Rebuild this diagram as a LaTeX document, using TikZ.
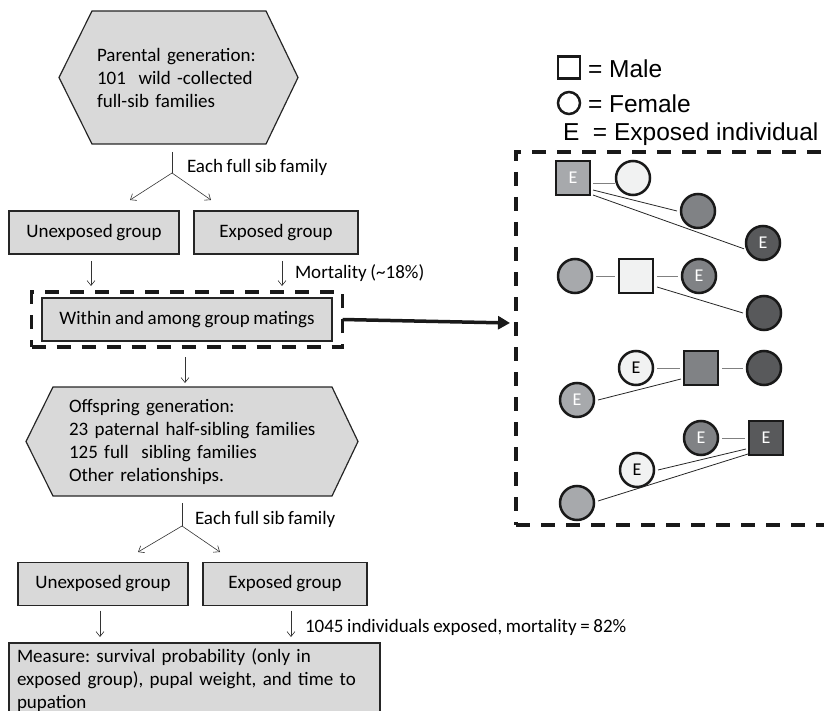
\documentclass[tikz,border=0pt]{standalone}
\usepackage{fontspec}
\setmainfont[WordSpace=0.85]{Carlito}
\newfontfamily\legendfont{Liberation Sans}
\usetikzlibrary{arrows.meta,fit,backgrounds}
\frenchspacing

\definecolor{boxgray}{HTML}{D9D9D9}
\definecolor{pwhite}{HTML}{F1F2F2}
\definecolor{plight}{HTML}{A7A9AC}
\definecolor{pmid}{HTML}{808285}
\definecolor{pdark}{HTML}{58595B}

\begin{document}
\begin{tikzpicture}[
		x=1pt, y=-1pt,
		every node/.style={font=\fontsize{19}{23}\selectfont, outer sep=0pt},
		box/.style={draw=black!85, fill=boxgray, line width=1.2pt, minimum height=43pt, inner sep=0pt},
		hexfill/.style={draw=black!85, fill=boxgray, line width=1.2pt},
		flow/.style={draw=black!80, line width=0.6pt, -{Straight Barb[length=5pt,width=8pt]}},
		frame/.style={draw=black!90, line width=3.2pt, dash pattern=on 14pt off 11pt},
		bigarrow/.style={draw=black!90, line width=3.5pt, -{Triangle[length=12pt,width=13pt]}},
		male/.style={rectangle, draw=black!90, line width=2.5pt, minimum size=34pt, inner sep=0pt, font=\fontsize{18}{18}\selectfont},
		female/.style={circle, draw=black!90, line width=2.5pt, minimum size=34pt, inner sep=0pt, font=\fontsize{18}{18}\selectfont},
		mate/.style={draw=gray, line width=1pt},
		desc/.style={draw=black!85, line width=0.8pt},
		legtext/.style={font=\legendfont\fontsize{24.5}{24.5}\selectfont, inner sep=0pt}
	]
	\useasboundingbox (0,0) rectangle (824,711);
	\clip (0,0) rectangle (824,711);

	% Flow chart
	\node[text width=164pt, align=left, minimum height=133pt, inner xsep=5pt, inner ysep=0pt] (par) at (179,77.5)
		{Parental generation:\\101\ \ wild -collected\\full-sib families};
	\node[box, minimum width=170pt] (unexp1) at (94,232.5) {Unexposed group};
	\node[box, minimum width=164pt] (exp1) at (276,232.5) {Exposed group};
	\node[box, minimum width=290pt] (mat) at (187,319.5) {Within and among group matings};
	\node[frame, fit=(mat), inner xsep=10.5pt, inner ysep=6pt] (matframe) {};
	\node[text width=247pt, align=left, minimum height=109pt, inner xsep=16pt, inner ysep=0pt] (off) at (192.5,441.5)
		{Offspring generation:\\23 paternal half-sibling families\\125 full\ \ sibling families\\Other relationships.};
	\node[box, minimum width=170pt] (unexp2) at (103,584) {Unexposed group};
	\node[box, minimum width=164pt] (exp2) at (285,584) {Exposed group};
	\node[box, anchor=north west, text width=355pt, align=left, inner xsep=8pt, inner ysep=0pt, minimum height=74pt] (meas) at (9,643)
		{Measure: survival probability (only in\\exposed group), pupal weight, and time to\\pupation};

	\begin{scope}[on background layer]
		\draw[hexfill] (par.north west) -- (par.north east) -- ([xshift=32pt]par.east) -- (par.south east)
			-- (par.south west) -- ([xshift=-33pt]par.west) -- cycle;
		\draw[hexfill] (off.north west) -- (off.north east) -- ([xshift=26pt]off.east) -- (off.south east)
			-- (off.south west) -- ([xshift=-27pt]off.west) -- cycle;
	\end{scope}

	% Connections
	\coordinate (split1) at (172,173);
	\coordinate (left1) at (130,200);
	\coordinate (right1) at (211,200);
	\draw[draw=black!80, line width=0.6pt] (172,152) -- (split1);
	\draw[flow] (split1) -- (left1);
	\draw[flow] (split1) -- (right1);
	\draw[flow] ([shift={(-3,7)}]unexp1.south) -- ([shift={(-3,-6)}]matframe.north -| unexp1.south);
	\draw[flow] ([shift={(6,7)}]exp1.south) -- ([shift={(6,-6)}]matframe.north -| exp1.south);
	\coordinate (matout) at (185,357);
	\draw[flow] (matout) -- (matout |- 0,383);

	\coordinate (split2) at (182,526);
	\coordinate (left2) at (138,552);
	\coordinate (right2) at (220,552);
	\draw[draw=black!80, line width=0.6pt] (182,503) -- (split2);
	\draw[flow] (split2) -- (left2);
	\draw[flow] (split2) -- (right2);
	\draw[flow] ([shift={(-3,5)}]unexp2.south) -- ([shift={(-3,-6)}]meas.north -| unexp2.south);
	\draw[flow] ([shift={(6,5)}]exp2.south) -- ([shift={(6,-6)}]meas.north -| exp2.south);

	% Labels
	\node[anchor=west, inner sep=0pt] (lab1) at (187,167) {Each full sib family};
	\node[anchor=west, inner sep=0pt] (lab2) at (295,273) {Mortality (\textasciitilde18\%)};
	\node[anchor=west, inner sep=0pt] (lab3) at (195,519) {Each full sib family};
	\node[anchor=west, inner sep=0pt] (lab4) at (305,627) {1045 individuals exposed, mortality = 82\%};

	% Legend
	\node[male, minimum size=22pt] (legm) at (569,67.5) {};
	\node[female, minimum size=22pt] (legf) at (569,103) {};
	\node[legtext, anchor=west] (legmt) at (588,69) {= Male};
	\node[legtext, anchor=west] (legft) at (588,104) {= Female};
	\node[legtext, anchor=west] (leget) at (563,134) {E\ \ = Exposed individual};

	% Pedigree
	\node[frame, anchor=north west, minimum width=316pt, minimum height=373pt] (pedbox) at (516,152) {};
	\coordinate (pedin) at (510,323);
	\draw[bigarrow] (matframe.east) -- (pedin);

	\node[male, fill=plight, text=white] (m1) at (573,178) {E};
	\node[female, fill=pwhite] (f1) at (633,178) {};
	\node[female, fill=pmid] (f2) at (698,211) {};
	\node[female, fill=pdark, text=white] (f3) at (763,243) {E};

	\node[female, fill=plight] (f4) at (575,276) {};
	\node[male, fill=pwhite] (m2) at (636,276) {};
	\node[female, fill=pmid, text=white] (f5) at (699,276) {E};
	\node[female, fill=pdark] (f6) at (764,313) {};

	\node[female, fill=pwhite] (f7) at (636,368) {E};
	\node[male, fill=pmid] (m3) at (701,368) {};
	\node[female, fill=pdark] (f8) at (764,368) {};
	\node[female, fill=plight, text=white] (f9) at (577,400) {E};

	\node[female, fill=pmid, text=white] (f10) at (701,438) {E};
	\node[male, fill=pdark, text=white] (m4) at (766,438) {E};
	\node[female, fill=pwhite] (f11) at (637,470) {E};
	\node[female, fill=plight] (f12) at (577,503) {};

	% Kinship lines
	\draw[mate] ([shift={(3,6)}]m1.east) -- ([shift={(-1,6)}]f1.west);
	\draw[desc] ([shift={(3,12)}]m1.east) -- ([xshift=-4pt]f2.west);
	\draw[desc] ([shift={(3,17)}]m1.east) -- ([shift={(-3,0)}]f3.200);

	\draw[mate] ([xshift=4pt]f4.east) -- ([xshift=-4pt]m2.west);
	\draw[mate] ([xshift=4pt]m2.east) -- ([xshift=-4pt]f5.west);
	\draw[desc] ([shift={(4,11)}]m2.east) -- ([xshift=-4pt]f6.west);

	\draw[mate] ([xshift=4pt]f7.east) -- ([xshift=-4pt]m3.west);
	\draw[mate] ([xshift=4pt]m3.east) -- ([xshift=-4pt]f8.west);
	\draw[desc] ([xshift=4pt]f9.east) -- ([shift={(-3,11)}]m3.west);

	\draw[mate] ([xshift=4pt]f10.east) -- ([xshift=-4pt]m4.west);
	\draw[desc] ([xshift=4pt]f11.east) -- ([shift={(-3,11)}]m4.west);
	\draw[desc] ([shift={(4,-2)}]f12.east) -- ([shift={(-1,16)}]m4.west);
\end{tikzpicture}
\end{document}
